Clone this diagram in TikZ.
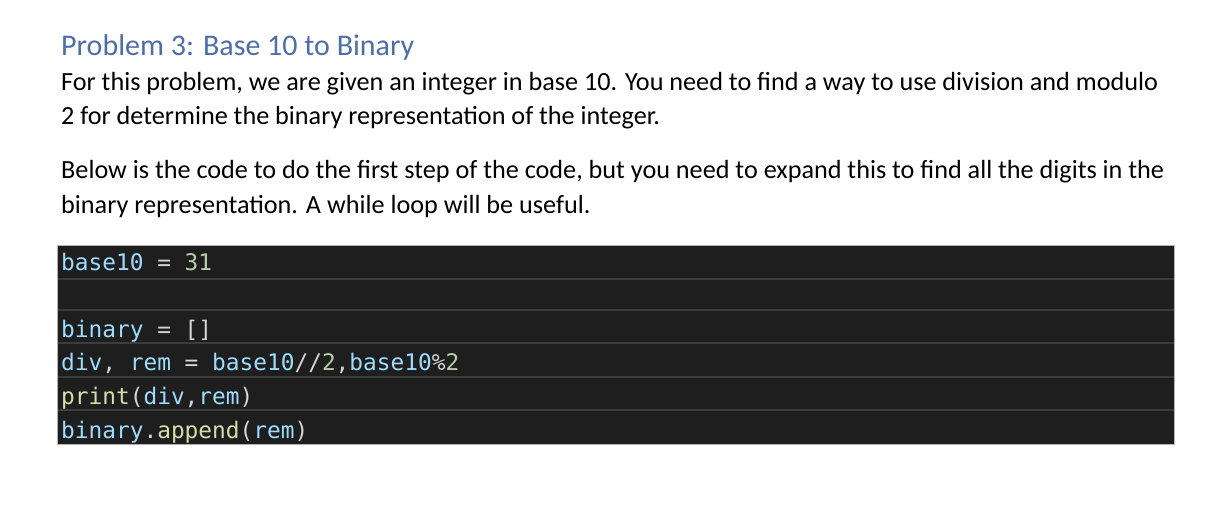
\documentclass[tikz,border=0pt]{standalone}
\usepackage{fontspec}
\setmainfont{Carlito}
\newfontfamily\codefont{DejaVu Sans Mono}
\definecolor{ttl}{HTML}{2F5597}
\definecolor{cbg}{HTML}{1E1E1E}
\definecolor{csep}{HTML}{3C3C3C}
\definecolor{cvar}{HTML}{9CDCFE}
\definecolor{cnum}{HTML}{B5CEA8}
\definecolor{cfn}{HTML}{DCDCAA}
\definecolor{cop}{HTML}{D4D4D4}
\begin{document}
\begin{tikzpicture}[x=1pt,y=-1pt,
  body/.style={anchor=base west,inner sep=0pt,font=\fontsize{26.2}{30}\selectfont},
  code/.style={anchor=base west,inner sep=0pt,font=\codefont\fontsize{22.8}{26}\selectfont}]
\useasboundingbox (0,0) rectangle (1231,517);
\fill[white] (0,0) rectangle (1231,517);
\node[body,text=ttl!85!white,font=\fontsize{30}{34}\selectfont] (title) at (61,55) {Problem 3: Base 10 to Binary};
\node[body] (l1) at (61,90) {For this problem, we are given an integer in base 10. You need to find a way to use division and modulo};
\node[body] (l2) at (61,124) {2 for determine the binary representation of the integer.};
\node[body] (l3) at (61,178) {Below is the code to do the first step of the code, but you need to expand this to find all the digits in the};
\node[body] (l4) at (61,213) {binary representation. A while loop will be useful.};
\fill[cbg] (57,245) rectangle (1174,444);
\foreach \yy in {279,310,343,377,410}{\draw[csep,line width=1.5pt] (57,\yy) -- (1174,\yy);}
\draw[gray!60,line width=1pt] (57,245) rectangle (1174,444);
\node[code] (c1) at (61,270) {\color{cvar}base10 \color{cop}= \color{cnum}31};
\node[code] (c2) at (61,337) {\color{cvar}binary \color{cop}= []};
\node[code] (c3) at (61,370) {\color{cvar}div\color{cop}, \color{cvar}rem \color{cop}= \color{cvar}base10\color{cop}//\color{cnum}2\color{cop},\color{cvar}base10\color{cop}\%\color{cnum}2};
\node[code] (c4) at (61,404) {\color{cfn}print\color{cop}(\color{cvar}div\color{cop},\color{cvar}rem\color{cop})};
\node[code] (c5) at (61,438) {\color{cvar}binary\color{cop}.\color{cfn}append\color{cop}(\color{cvar}rem\color{cop})};
\end{tikzpicture}
\end{document}
